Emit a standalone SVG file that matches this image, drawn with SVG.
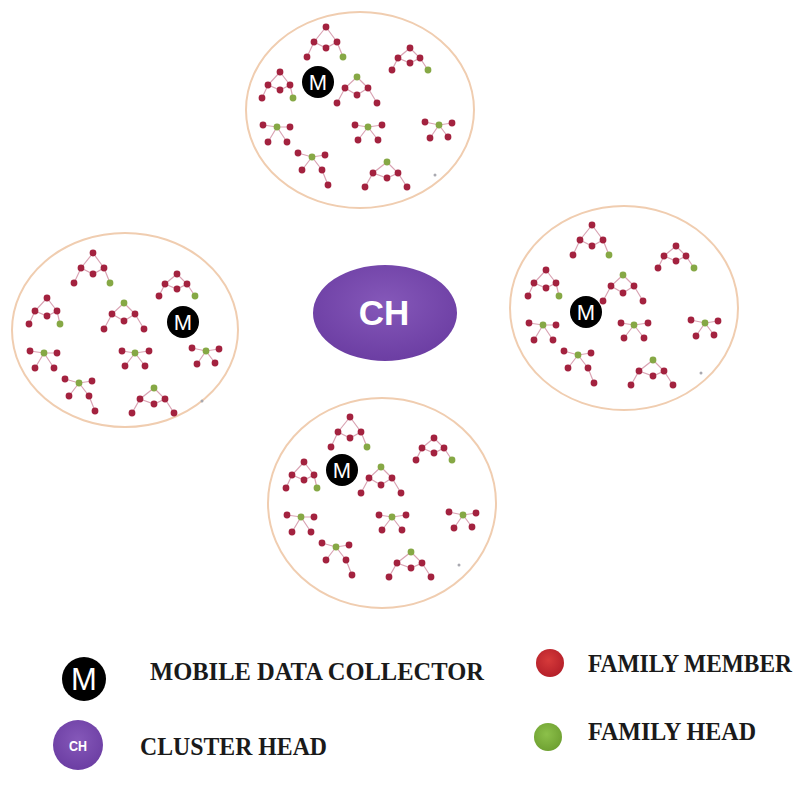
<svg xmlns="http://www.w3.org/2000/svg" xmlns:xlink="http://www.w3.org/1999/xlink" width="805" height="785" viewBox="0 0 805 785">
<style>
.cl{fill:#fff;stroke:#f0cdb0;stroke-width:2}
.e{stroke:#d9a3b3;stroke-width:1.2;fill:none}
.r{fill:#a3223f}
.g{fill:#86a845}
.mc{fill:#000}
.mt{font-family:"Liberation Sans",Arial,sans-serif;fill:#fff;text-anchor:middle}
.lg{font-family:"Liberation Serif","Times New Roman",serif;font-weight:bold;fill:#1a1a1a;font-size:25px}
</style>
<defs>
<radialGradient id="chg" cx="50%" cy="40%" r="60%">
<stop offset="0" stop-color="#8558b9"/>
<stop offset="1" stop-color="#6c3ea3"/>
</radialGradient>
<radialGradient id="rg" cx="45%" cy="40%" r="60%">
<stop offset="0" stop-color="#d63a3a"/>
<stop offset="1" stop-color="#b5202a"/>
</radialGradient>
<radialGradient id="gg" cx="45%" cy="40%" r="60%">
<stop offset="0" stop-color="#8cc04a"/>
<stop offset="1" stop-color="#6fa132"/>
</radialGradient>
<g id="pattern">
<g class="e">
<path d="M0,0L-12,15L-19,30M-12,15L0,21L11,15L0,0M11,15L17,30"/>
<path d="M84,21L72,31L66,43M72,31L84,36L94,31L84,21M94,31L102,43"/>
<path d="M-46,45L-58,58L-64,71M-58,58L-46,63L-36,58L-46,45M-36,58L-33,71"/>
<path d="M31,50L19,61L11,76M19,61L31,68L42,61L31,50M42,61L51,76"/>
<path d="M61,135L47,146L39,160M47,146L61,151L72,146L61,135M72,146L81,160"/>
<path d="M-63,98L-49,100L-36,100M-49,100L-58,115M-49,100L-39,115"/>
<path d="M29,98L42,100L56,98M42,100L32,113M42,100L52,113"/>
<path d="M99,95L113,98L126,96M113,98L104,111M113,98L122,110"/>
<path d="M-28,126L-14,130L-1,128M-14,130L-24,143M-14,130L-4,143L2,158"/>
</g>
<g class="r">
<circle cx="0" cy="0" r="3.4"/><circle cx="-12" cy="15" r="3.4"/><circle cx="11" cy="15" r="3.4"/><circle cx="0" cy="21" r="3.4"/><circle cx="-19" cy="30" r="3.4"/>
<circle cx="84" cy="21" r="3.4"/><circle cx="72" cy="31" r="3.4"/><circle cx="94" cy="31" r="3.4"/><circle cx="84" cy="36" r="3.4"/><circle cx="66" cy="43" r="3.4"/>
<circle cx="-46" cy="45" r="3.4"/><circle cx="-58" cy="58" r="3.4"/><circle cx="-36" cy="58" r="3.4"/><circle cx="-46" cy="63" r="3.4"/><circle cx="-64" cy="71" r="3.4"/>
<circle cx="19" cy="61" r="3.4"/><circle cx="42" cy="61" r="3.4"/><circle cx="31" cy="68" r="3.4"/><circle cx="11" cy="76" r="3.4"/><circle cx="51" cy="76" r="3.4"/>
<circle cx="47" cy="146" r="3.4"/><circle cx="72" cy="146" r="3.4"/><circle cx="61" cy="151" r="3.4"/><circle cx="39" cy="160" r="3.4"/><circle cx="81" cy="160" r="3.4"/>
<circle cx="-63" cy="98" r="3.4"/><circle cx="-36" cy="100" r="3.4"/><circle cx="-58" cy="115" r="3.4"/><circle cx="-39" cy="115" r="3.4"/>
<circle cx="29" cy="98" r="3.4"/><circle cx="56" cy="98" r="3.4"/><circle cx="32" cy="113" r="3.4"/><circle cx="52" cy="113" r="3.4"/>
<circle cx="99" cy="95" r="3.4"/><circle cx="126" cy="96" r="3.4"/><circle cx="104" cy="111" r="3.4"/><circle cx="122" cy="110" r="3.4"/>
<circle cx="-28" cy="126" r="3.4"/><circle cx="-1" cy="128" r="3.4"/><circle cx="-24" cy="143" r="3.4"/><circle cx="-4" cy="143" r="3.4"/><circle cx="2" cy="158" r="3.4"/>
</g>
<g class="g">
<circle cx="17" cy="30" r="3.4"/><circle cx="102" cy="43" r="3.4"/><circle cx="-33" cy="71" r="3.4"/><circle cx="31" cy="50" r="3.4"/><circle cx="61" cy="135" r="3.4"/>
<circle cx="-49" cy="100" r="3.4"/><circle cx="42" cy="100" r="3.4"/><circle cx="113" cy="98" r="3.4"/><circle cx="-14" cy="130" r="3.4"/>
</g>
<circle cx="109" cy="148" r="1.5" fill="#a9a9b0"/>
</g>
</defs>
<rect width="805" height="785" fill="#fff"/>

<g id="cluster-top">
<ellipse class="cl" cx="360" cy="110" rx="114" ry="98"/>
<use xlink:href="#pattern" transform="translate(326,27)"/>
<g id="mdc-top"><circle class="mc" cx="318" cy="82" r="16"/><text class="mt" x="318" y="90" font-size="22">M</text></g>
</g>

<g id="cluster-left">
<ellipse class="cl" cx="125" cy="330" rx="113" ry="97"/>
<use xlink:href="#pattern" transform="translate(93,253)"/>
<g id="mdc-left"><circle class="mc" cx="183" cy="322" r="16"/><text class="mt" x="183" y="330" font-size="22">M</text></g>
</g>

<g id="cluster-right">
<ellipse class="cl" cx="624" cy="308" rx="114" ry="102"/>
<use xlink:href="#pattern" transform="translate(592,225)"/>
<g id="mdc-right"><circle class="mc" cx="586" cy="312" r="16"/><text class="mt" x="586" y="320" font-size="22">M</text></g>
</g>

<g id="cluster-bottom">
<ellipse class="cl" cx="382" cy="503" rx="114" ry="105"/>
<use xlink:href="#pattern" transform="translate(350,417)"/>
<g id="mdc-bottom"><circle class="mc" cx="342" cy="470" r="16"/><text class="mt" x="342" y="478" font-size="22">M</text></g>
</g>

<g id="cluster-head">
<ellipse cx="385" cy="313" rx="72" ry="48" fill="url(#chg)"/>
<text x="384" y="325" font-family="Liberation Sans,Arial,sans-serif" font-weight="bold" font-size="35" fill="#fff" text-anchor="middle">CH</text>
</g>

<g id="legend">
<g id="legend-mdc">
<circle cx="84" cy="679" r="22" fill="#000"/>
<text class="mt" x="84" y="690" font-size="31">M</text>
<text class="lg" x="150" y="680" textLength="334" lengthAdjust="spacingAndGlyphs">MOBILE DATA COLLECTOR</text>
</g>
<g id="legend-ch">
<circle cx="78" cy="745" r="25" fill="url(#chg)"/>
<text x="78" y="751" font-family="Liberation Sans,Arial,sans-serif" font-weight="bold" font-size="15" fill="#fff" text-anchor="middle" textLength="18" lengthAdjust="spacingAndGlyphs">CH</text>
<text class="lg" x="140" y="755" textLength="187" lengthAdjust="spacingAndGlyphs">CLUSTER HEAD</text>
</g>
<g id="legend-member">
<circle cx="550" cy="663" r="14" fill="url(#rg)"/>
<text class="lg" x="588" y="672" textLength="204" lengthAdjust="spacingAndGlyphs">FAMILY MEMBER</text>
</g>
<g id="legend-head">
<circle cx="548" cy="737" r="14" fill="url(#gg)"/>
<text class="lg" x="588" y="740" textLength="168" lengthAdjust="spacingAndGlyphs">FAMILY HEAD</text>
</g>
</g>
</svg>
